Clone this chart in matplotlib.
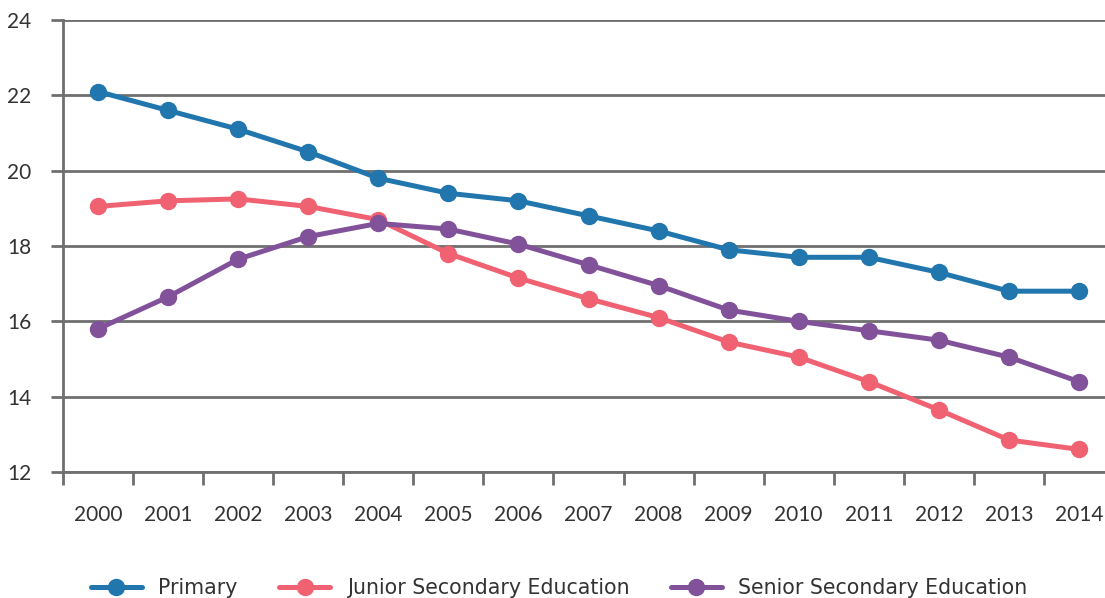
import matplotlib
matplotlib.use("Agg")
import matplotlib.pyplot as plt
import numpy as np

years = ["2000", "2001", "2002", "2003", "2004", "2005", "2006", "2007",
         "2008", "2009", "2010", "2011", "2012", "2013", "2014"]
primary = [22.1, 21.6, 21.1, 20.5, 19.8, 19.4, 19.2, 18.8, 18.4, 17.9, 17.7, 17.7, 17.3, 16.8, 16.8]
junior = [19.05, 19.2, 19.25, 19.05, 18.7, 17.8, 17.15, 16.6, 16.1, 15.45, 15.05, 14.4, 13.65, 12.85, 12.6]
senior = [15.8, 16.65, 17.65, 18.25, 18.6, 18.45, 18.05, 17.5, 16.95, 16.3, 16.0, 15.75, 15.5, 15.05, 14.4]
series_names = ["Primary", "Junior Secondary Education", "Senior Secondary Education"]
colors = ["#2176AE", "#F06272", "#81519A"]
yticks = [12, 14, 16, 18, 20, 22, 24]

plt.rcParams['font.family'] = ['Lato', 'DejaVu Sans']

fig = plt.figure(figsize=(11.05, 5.98), dpi=100)
ax = fig.add_axes([63/1105, 1-472/598, 1051/1105, (472-20)/598])

x = np.arange(len(years))
for vals, name, c in zip([primary, junior, senior], series_names, colors):
    ax.plot(x, vals, color=c, lw=3.6, marker='o', ms=11.5, label=name, zorder=3,
            solid_capstyle='round', clip_on=False)

ax.set_xlim(-0.5, len(years) - 0.5)
ax.set_ylim(12, 24)
ax.set_yticks(yticks)
ax.set_yticklabels([str(v) for v in yticks])
ax.yaxis.grid(True, color="#6f6f6f", lw=2.0, zorder=1)
ax.set_axisbelow(True)

grid_col = "#6f6f6f"
for s in ["top", "right"]:
    ax.spines[s].set_visible(False)
ax.spines["left"].set_color(grid_col)
ax.spines["left"].set_linewidth(2.0)
ax.spines["bottom"].set_color(grid_col)
ax.spines["bottom"].set_linewidth(2.0)

ax.tick_params(axis='y', length=9, width=2.0, color=grid_col, labelsize=15,
               labelcolor="#333333", pad=14)
ax.set_xticks(x)
ax.set_xticklabels(years)
ax.set_xticks(np.arange(-0.5, len(years), 1.0), minor=True)
ax.tick_params(axis='x', which='major', length=0, labelsize=15, labelcolor="#333333", pad=23.5)
ax.tick_params(axis='x', which='minor', length=9, width=2.0, color=grid_col)

fig.legend(loc='center', bbox_to_anchor=(0.506, 1-588/598), ncol=3, frameon=False,
           prop={'family': 'DejaVu Sans', 'size': 14.8}, labelcolor="#333333",
           handlelength=2.5, columnspacing=2.0, handletextpad=0.8)

fig.savefig("out.png", dpi=100)
